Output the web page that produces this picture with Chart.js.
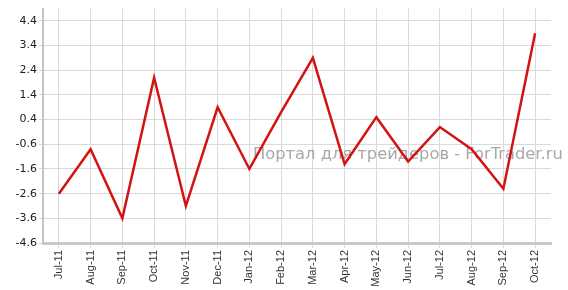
<!DOCTYPE html>
<html>
<head>
<meta charset="utf-8">
<script src="https://cdn.jsdelivr.net/npm/chart.js@4"></script>
<style>
  html, body { margin: 0; padding: 0; background: #fff; }
  #wrap { width: 568px; height: 290px; }
</style>
</head>
<body>
<div id="wrap"><canvas id="chart" width="568" height="290"></canvas></div>
<script>
const months = ['Jul-11', 'Aug-11', 'Sep-11', 'Oct-11', 'Nov-11', 'Dec-11', 'Jan-12', 'Feb-12',
    'Mar-12', 'Apr-12', 'May-12', 'Jun-12', 'Jul-12', 'Aug-12', 'Sep-12', 'Oct-12'];
const values = [-2.6, -0.8, -3.6, 2.1, -3.1, 0.9, -1.6, 0.7, 2.9, -1.4, 0.5, -1.3, 0.1, -0.8, -2.4, 3.9];
const yTicks = [-4.6, -3.6, -2.6, -1.6, -0.6, 0.4, 1.4, 2.4, 3.4, 4.4];
const watermark = 'Портал для трейдеров - ForTrader.ru';

// watermark text behind the line
const watermarkPlugin = {
    id: 'watermark',
    beforeDatasetsDraw(chart) {
        const ctx = chart.ctx;
        ctx.save();
        ctx.font = '15px "DejaVu Sans"';
        const w = ctx.measureText(watermark).width;
        const size = 15 * 310 / w;
        ctx.font = size.toFixed(2) + 'px "DejaVu Sans"';
        ctx.fillStyle = '#a8a8a8';
        ctx.textBaseline = 'middle';
        ctx.fillText(watermark, 253, 155);
        ctx.restore();
    }
};

const ctx = document.getElementById('chart').getContext('2d');
new Chart(ctx, {
    type: 'line',
    data: {
        labels: months,
        datasets: [{
            data: values,
            borderColor: '#d41212',
            borderWidth: 2.5,
            pointRadius: 0,
            tension: 0,
            fill: false
        }]
    },
    options: {
        responsive: false,
        animation: false,
        layout: { padding: { top: 3, right: 17, left: 0, bottom: 0 } },
        plugins: {
            legend: { display: false },
            tooltip: { enabled: false }
        },
        scales: {
            x: {
                offset: true,
                grid: { offset: false, color: '#dadada', tickLength: 5 },
                border: { color: '#c8c8c8', width: 3 },
                ticks: {
                    minRotation: 90,
                    maxRotation: 90,
                    autoSkip: false,
                    padding: 2,
                    color: '#333',
                    font: { family: '"Liberation Sans"', size: 11 }
                },
                afterFit(scale) { scale.height = 47; }
            },
            y: {
                min: -4.6,
                max: 4.9,
                afterBuildTicks(scale) {
                    scale.ticks = yTicks.map(v => ({ value: v }));
                },
                grid: { color: '#dadada', tickLength: 4 },
                border: { color: '#c4c4c4', width: 2 },
                ticks: {
                    padding: 2,
                    color: '#222',
                    font: { family: '"DejaVu Sans"', size: 11 },
                    callback: v => v.toFixed(1)
                },
                afterFit(scale) { scale.width = 43; }
            }
        }
    },
    plugins: [watermarkPlugin]
});
</script>
</body>
</html>
